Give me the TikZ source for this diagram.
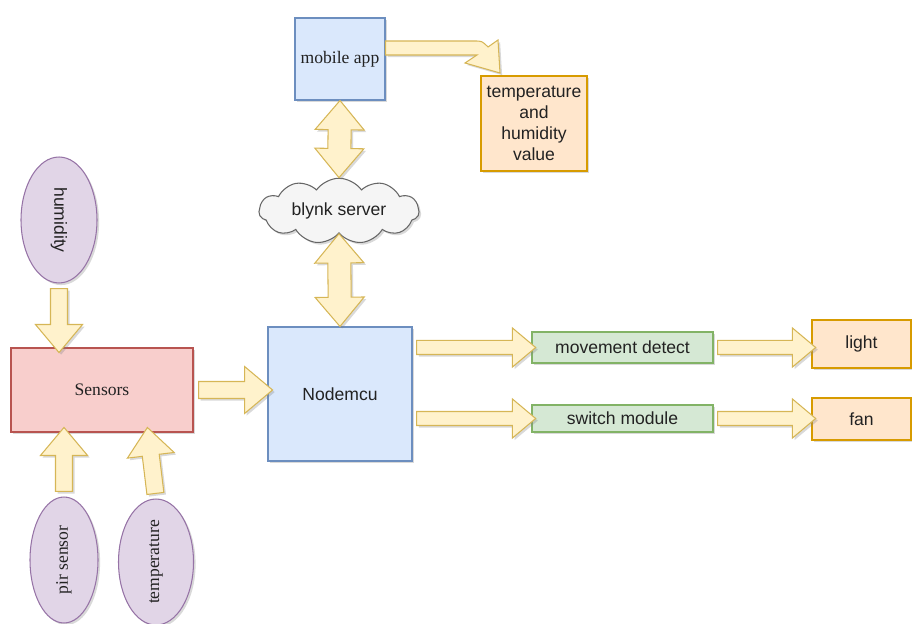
\documentclass[tikz,border=0pt]{standalone}
\usepackage{fontspec}
\setmainfont{Liberation Sans}
\newfontfamily\seriffont{Liberation Serif}
\usetikzlibrary{calc,shapes.geometric,shapes.symbols,shapes.arrows,shadows}

\definecolor{bluefill}{HTML}{DAE8FC}
\definecolor{blueline}{HTML}{6C8EBF}
\definecolor{redfill}{HTML}{F8CECC}
\definecolor{redline}{HTML}{B85450}
\definecolor{orangefill}{HTML}{FFE6CC}
\definecolor{orangeline}{HTML}{D79B00}
\definecolor{greenfill}{HTML}{D5E8D4}
\definecolor{greenline}{HTML}{82B366}
\definecolor{purplefill}{HTML}{E1D5E7}
\definecolor{purpleline}{HTML}{9673A6}
\definecolor{arrowfill}{HTML}{FFF2CC}
\definecolor{arrowline}{HTML}{D6B656}
\definecolor{cloudfill}{HTML}{F5F5F5}
\definecolor{cloudline}{HTML}{666666}
\definecolor{textgray}{HTML}{222222}

\begin{document}
\begin{tikzpicture}[x=0.02cm,y=-0.02cm,
  every node/.style={font=\fontsize{10}{12}\selectfont,text=textgray},
  boxshadow/.style={drop shadow={shadow xshift=1.2pt,shadow yshift=-1.2pt,opacity=0.3}},
  block/.style={draw=#1line,fill=#1fill,line width=0.6pt,boxshadow,inner sep=1pt,align=center},
  oval/.style={ellipse,draw=purpleline,fill=purplefill,line width=0.6pt,boxshadow,inner sep=0pt},
  flow/.style={single arrow,draw=arrowline,fill=arrowfill,line width=0.6pt,boxshadow,
    inner xsep=0pt,inner ysep=0.16cm,single arrow head extend=0.3cm,single arrow tip angle=80},
  flowthin/.style={flow,inner ysep=0.13cm,single arrow head extend=0.25cm},
  twoway/.style={double arrow,draw=arrowline,fill=arrowfill,line width=0.6pt,boxshadow,
    inner xsep=0pt,inner ysep=0.22cm,double arrow head extend=0.26cm,double arrow tip angle=80},
]
\useasboundingbox (0,0) rectangle (912,624);
% block arrow from #2 to #3
\def\blockarrow#1#2#3{\path let \p1=($(#3)-(#2)$), \n1={veclen(\x1,\y1)}, \n2={atan2(\y1,\x1)} in
  node[#1,minimum height=\n1,rotate=\n2] at ($(#2)!0.5!(#3)$) {};}

\node[block=blue,minimum width=1.8cm,minimum height=1.64cm] (mapp) at (340,59) {\seriffont mobile app};
\node[block=orange,minimum width=2.12cm,minimum height=1.9cm] (tval) at (534,123.5) {temperature\\and\\humidity\\value};
\node[cloud,cloud puffs=11,cloud puff arc=110,aspect=2.8,draw=cloudline,fill=cloudfill,line width=0.6pt,boxshadow,
  minimum width=3.2cm,minimum height=1.12cm,inner sep=0pt] (cloud) at (339,211) {blynk server};
\node[block=blue,minimum width=2.88cm,minimum height=2.68cm] (nmcu) at (340,394) {Nodemcu};
\node[block=red,minimum width=3.64cm,minimum height=1.68cm] (sens) at (102,390) {\seriffont Sensors};
\node[block=green,minimum width=3.62cm,minimum height=0.62cm] (move) at (622.5,347.5) {movement detect};
\node[block=green,minimum width=3.62cm,minimum height=0.54cm] (sw) at (622.5,418.5) {switch module};
\node[block=orange,minimum width=1.98cm,minimum height=0.96cm] (light) at (861.5,344) {light};
\node[block=orange,minimum width=1.98cm,minimum height=0.84cm] (fan) at (861.5,419) {fan};

\node[oval,minimum width=1.52cm,minimum height=2.52cm] (hum) at (59,220) {\rotatebox{-90}{humidity}};
\node[oval,minimum width=1.36cm,minimum height=2.52cm] (pir) at (64,560) {\rotatebox{90}{\seriffont pir sensor}};
\node[oval,minimum width=1.5cm,minimum height=2.52cm] (tmp) at (156,562) {\rotatebox{90}{\seriffont temperature}};

\coordinate (humin) at (hum.south |- sens.north);
\coordinate (pirin) at (pir.north |- sens.south);
\coordinate (tmpin) at ($(sens.south)+(46,0)$);
\coordinate (nmcuin) at (nmcu.west |- sens.east);
\coordinate (moveout) at (nmcu.east |- move.west);
\coordinate (swout) at (nmcu.east |- sw.west);
\coordinate (lightin) at (light.west |- move.east);
\coordinate (fanin) at (fan.west |- sw.east);

\blockarrow{flow}{hum.south}{humin}
\blockarrow{flow}{pir.north}{pirin}
\blockarrow{flow}{tmp.north}{tmpin}
\blockarrow{flow}{sens.east}{nmcuin}
\blockarrow{twoway}{mapp.south}{cloud.north}
\blockarrow{twoway}{cloud.south}{nmcu.north}
\blockarrow{flowthin}{moveout}{move.west}
\blockarrow{flowthin}{swout}{sw.west}
\blockarrow{flowthin}{move.east}{lightin}
\blockarrow{flowthin}{sw.east}{fanin}

% bent arrow to the value box
\draw[draw=arrowline,fill=arrowfill,line width=0.6pt,boxshadow]
  (mapp.east |- 0,41) -- (474,41) .. controls (482,41) .. (488,47) -- (498,40) -- (500,73)
  -- (465,63) -- (477,55) -- (mapp.east |- 0,55) -- cycle;
\end{tikzpicture}
\end{document}
